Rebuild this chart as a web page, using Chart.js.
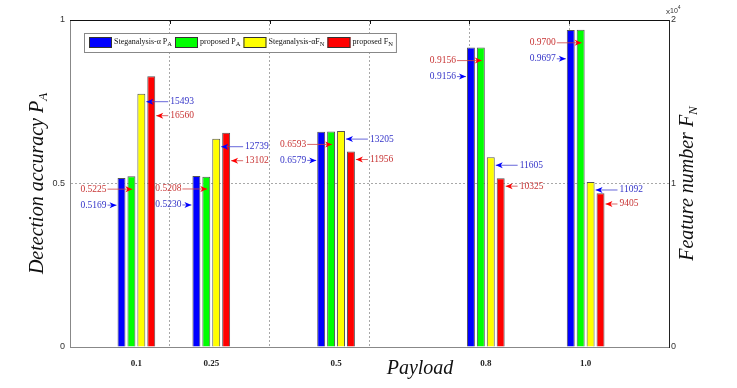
<!DOCTYPE html>
<html>
<head>
<meta charset="utf-8">
<script src="https://cdn.jsdelivr.net/npm/chart.js@4.4.1/dist/chart.umd.min.js"></script>
<style>
  html, body { margin: 0; padding: 0; background: #fff; }
  #wrap { width: 737px; height: 388px; }
</style>
</head>
<body>
<div id="wrap"><canvas id="chart" width="737" height="388"></canvas></div>
<script>
// payload groups and the text under each group
const payload = [0.1, 0.25, 0.5, 0.8, 1.0];
const payloadLabels = ["0.1", "0.25", "0.5", "0.8", "1.0"];
// dotted vertical grid lines (in the same x units)
const gridX = [0.167, 0.367, 0.567, 0.767, 0.967];

// detection accuracy, left axis
const stegoPA = [0.5169, 0.5230, 0.6579, 0.9156, 0.9697];
const proposedPA = [0.5225, 0.5208, 0.6593, 0.9156, 0.9700];
// feature number, right axis
const stegoFN = [15493, 12739, 13205, 11605, 10092];
const proposedFN = [16560, 13102, 11956, 10325, 9405];

// numbers written beside the arrows
const stegoPAText = ["0.5169", "0.5230", "0.6579", "0.9156", "0.9697"];
const proposedPAText = ["0.5225", "0.5208", "0.6593", "0.9156", "0.9700"];
const stegoFNText = ["15493", "12739", "13205", "11605", "11092"];
const proposedFNText = ["16560", "13102", "11956", "10325", "9405"];

const SERIF = '"Liberation Serif", "Times New Roman", serif';
const SANS = '"Liberation Sans", Arial, sans-serif';
const BLUE_TXT = "#3434c8", RED_TXT = "#c83434";

// draw a run of text pieces (for subscripts), returns end x
function drawParts(ctx, parts, x, y) {
  parts.forEach(p => {
    ctx.font = p.font;
    ctx.fillText(p.text, x, y + (p.dy || 0));
    x += ctx.measureText(p.text).width;
  });
  return x;
}
function partsWidth(ctx, parts) {
  let w = 0;
  parts.forEach(p => { ctx.font = p.font; w += ctx.measureText(p.text).width; });
  return w;
}

function arrow(ctx, x1, x2, y, color, head) {
  ctx.strokeStyle = color;
  ctx.lineWidth = 0.8;
  ctx.beginPath();
  ctx.moveTo(x1, y);
  ctx.lineTo(x2, y);
  ctx.stroke();
  const dir = x2 > x1 ? 1 : -1;
  ctx.fillStyle = head;
  ctx.beginPath();
  ctx.moveTo(x2, y);
  ctx.lineTo(x2 - dir * 7, y - 3);
  ctx.lineTo(x2 - dir * 5, y);
  ctx.lineTo(x2 - dir * 7, y + 3);
  ctx.closePath();
  ctx.fill();
}

const decor = {
  id: "decor",
  afterDatasetsDraw(chart) {
    const ctx = chart.ctx;
    const ca = chart.chartArea;
    ctx.save();

    // top frame line and small ticks
    ctx.strokeStyle = "#111";
    ctx.lineWidth = 1;
    ctx.beginPath();
    ctx.moveTo(ca.left, ca.top + 0.5);
    ctx.lineTo(ca.right, ca.top + 0.5);
    gridX.forEach(v => {
      const px = Math.round(chart.scales.x.getPixelForValue(v)) + 0.5;
      ctx.moveTo(px, ca.top);
      ctx.lineTo(px, ca.top + 4);
    });
    ctx.stroke();

    // arrows and numbers
    const m = [0, 1, 2, 3].map(i => chart.getDatasetMeta(i).data);
    ctx.textBaseline = "middle";
    payload.forEach((p, j) => {
      const b = m[0][j], g = m[1][j], yb = m[2][j], r = m[3][j];
      const left = b.x - b.width / 2;
      const top = Math.min(b.y, g.y);
      const tx = left - 11;
      ctx.font = "9.5px " + SERIF;
      ctx.textAlign = "right";
      let ly = top + 13;
      ctx.fillStyle = RED_TXT;
      ctx.fillText(proposedPAText[j], tx, ly);
      arrow(ctx, tx + 1, g.x + 1, ly, "#d04040", "#ff0000");
      ly = top + 29;
      ctx.fillStyle = BLUE_TXT;
      ctx.font = "9.5px " + SERIF;
      ctx.fillText(stegoPAText[j], tx, ly);
      arrow(ctx, tx + 1, left - 1, ly, "#4040d0", "#0000ff");

      const rx = r.x + r.width / 2 + 15;
      const y1 = yb.y + 8;
      const y2 = Math.max(r.y + 8, y1 + 14);
      ctx.textAlign = "left";
      ctx.font = "9.5px " + SERIF;
      ctx.fillStyle = BLUE_TXT;
      ctx.fillText(stegoFNText[j], rx, y1);
      arrow(ctx, rx - 2, yb.x + yb.width / 2 + 1, y1, "#4040d0", "#0000ff");
      ctx.font = "9.5px " + SERIF;
      ctx.fillStyle = RED_TXT;
      ctx.fillText(proposedFNText[j], rx, y2);
      arrow(ctx, rx - 2, r.x + r.width / 2 + 1, y2, "#d04040", "#ff0000");
    });

    // legend box
    const f = "8px " + SERIF, fs = "6.5px " + SERIF;
    const entries = [
      { color: "#0000ff", parts: [{ text: "Steganalysis-\u03b1 P", font: f }, { text: "A", font: fs, dy: 3 }] },
      { color: "#00ff00", parts: [{ text: "proposed P", font: f }, { text: "A", font: fs, dy: 3 }] },
      { color: "#ffff00", parts: [{ text: "Steganalysis-\u03b1F", font: f }, { text: "N", font: fs, dy: 3 }] },
      { color: "#ff0000", parts: [{ text: "proposed F", font: f }, { text: "N", font: fs, dy: 3 }] }
    ];
    const bx = ca.left + 14, by = ca.top + 13, bh = 19;
    let w = 5;
    entries.forEach(e => { w += 23 + 2 + partsWidth(ctx, e.parts) + 3; });
    ctx.fillStyle = "#fff";
    ctx.fillRect(bx, by, w, bh);
    ctx.strokeStyle = "#888";
    ctx.lineWidth = 1;
    ctx.strokeRect(bx + 0.5, by + 0.5, w, bh);
    let x = bx + 5;
    ctx.textAlign = "left";
    ctx.textBaseline = "middle";
    entries.forEach(e => {
      ctx.fillStyle = e.color;
      ctx.fillRect(x, by + 4, 23, 11);
      ctx.strokeStyle = "#333";
      ctx.strokeRect(x + 0.5, by + 4.5, 22, 10);
      ctx.fillStyle = "#111";
      x = drawParts(ctx, e.parts, x + 25, by + bh / 2 - 1) + 3;
    });

    // axis titles
    const tf = "italic 20px " + SERIF, tfs = "italic 13px " + SERIF;
    const cy = (ca.top + ca.bottom) / 2;
    ctx.fillStyle = "#111";
    const leftT = [{ text: "Detection accuracy P", font: tf }, { text: "A", font: tfs, dy: 6 }];
    ctx.save();
    ctx.translate(38, cy);
    ctx.rotate(-Math.PI / 2);
    drawParts(ctx, leftT, -partsWidth(ctx, leftT) / 2, 0);
    ctx.restore();

    const rightT = [{ text: "Feature number F", font: tf }, { text: "N", font: tfs, dy: 6 }];
    ctx.save();
    ctx.translate(688, cy);
    ctx.rotate(-Math.PI / 2);
    drawParts(ctx, rightT, -partsWidth(ctx, rightT) / 2, 0);
    ctx.restore();

    ctx.font = "italic 20px " + SERIF;
    ctx.textAlign = "center";
    ctx.fillText("Payload", 420, 369);

    // exponent of the right axis
    ctx.textAlign = "left";
    ctx.fillStyle = "#333";
    drawParts(ctx, [{ text: "x", font: "8px " + SANS }, { text: "10", font: "7px " + SANS, dy: -1 }, { text: "4", font: "5px " + SANS, dy: -4 }], 666, 12);

    ctx.restore();
  }
};

const xData = arr => arr.map((v, i) => ({ x: payload[i], y: v }));
const barStyle = { borderColor: "#555", borderWidth: 1, categoryPercentage: 0.53, barPercentage: 0.8 };

new Chart(document.getElementById("chart").getContext("2d"), {
  type: "bar",
  data: {
    datasets: [
      Object.assign({ label: "Steganalysis-\u03b1 PA", data: xData(stegoPA), backgroundColor: "#0000ff", yAxisID: "y", xAxisID: "x" }, barStyle),
      Object.assign({ label: "proposed PA", data: xData(proposedPA), backgroundColor: "#00ff00", yAxisID: "y", xAxisID: "x" }, barStyle),
      Object.assign({ label: "Steganalysis-\u03b1FN", data: xData(stegoFN), backgroundColor: "#ffff00", yAxisID: "y2", xAxisID: "x" }, barStyle),
      Object.assign({ label: "proposed FN", data: xData(proposedFN), backgroundColor: "#ff0000", yAxisID: "y2", xAxisID: "x" }, barStyle)
    ]
  },
  options: {
    responsive: false,
    animation: false,
    devicePixelRatio: 1,
    layout: { padding: { top: 20, left: 0, right: 0, bottom: 0 } },
    plugins: { legend: { display: false }, tooltip: { enabled: false } },
    scales: {
      x: {
        type: "linear", position: "bottom", min: -0.033, max: 1.167, offset: false,
        afterBuildTicks: s => { s.ticks = payload.map(v => ({ value: v })); },
        afterFit: s => { s.height = 41; },
        ticks: {
          autoSkip: false, maxRotation: 0, padding: 3, color: "#222",
          font: { family: SERIF, size: 9, weight: "bold" },
          callback: (v, i) => payloadLabels[i]
        },
        grid: { display: false, offset: false },
        border: { color: "#888" }
      },
      xg: {
        type: "linear", position: "bottom", min: -0.033, max: 1.167, offset: false,
        afterBuildTicks: s => { s.ticks = gridX.map(v => ({ value: v })); },
        afterFit: s => { s.height = 0; },
        ticks: { display: false },
        grid: { color: "#a8a8a8", drawTicks: false, offset: false },
        border: { display: false, dash: [2, 2] }
      },
      y: {
        position: "left", min: 0, max: 1,
        afterFit: s => { s.width = 70; },
        ticks: { stepSize: 0.5, padding: 5, color: "#333", font: { family: SANS, size: 9 }, callback: v => String(v) },
        grid: {
          drawTicks: false,
          color: c => (c.tick && c.tick.value === 0.5 ? "#a8a8a8" : "rgba(0,0,0,0)")
        },
        border: { color: "#888", dash: [2, 2] }
      },
      y2: {
        position: "right", min: 0, max: 20000,
        afterFit: s => { s.width = 68; },
        ticks: { stepSize: 10000, padding: 2, color: "#333", font: { family: SANS, size: 9 }, callback: v => String(v / 10000) },
        grid: { drawOnChartArea: false, drawTicks: false },
        border: { color: "#222" }
      }
    }
  },
  plugins: [decor]
});
</script>
</body>
</html>
